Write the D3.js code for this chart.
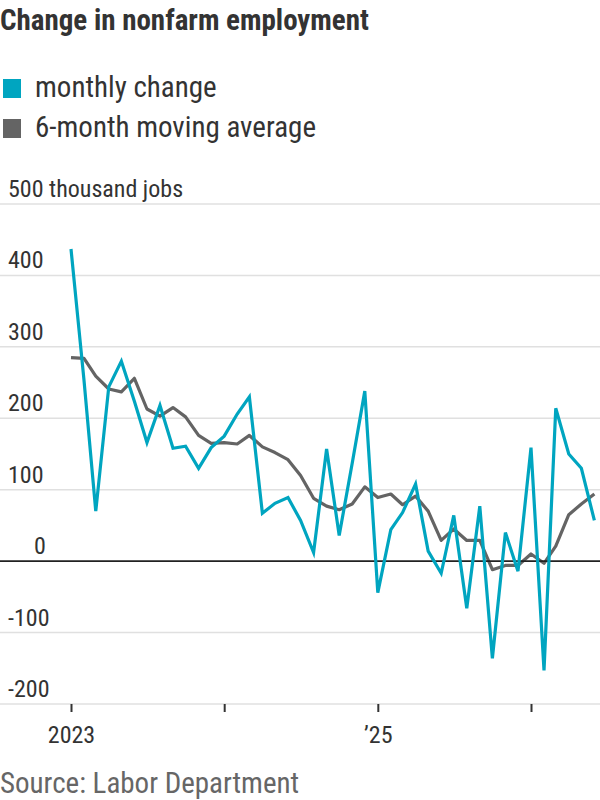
<!DOCTYPE html>
<html>
<head>
<meta charset="utf-8">
<script src="https://cdn.jsdelivr.net/npm/d3@7"></script>
<style>
  body { margin: 0; background: #fff; }
  svg text { font-family: "Liberation Sans Narrow", "Roboto Condensed", Roboto, sans-serif; fill: #333; }
</style>
</head>
<body>
<script>
// Data (thousand jobs), monthly from Jan 2023
var startMonth = [2023, 0];
var monthly = [437, 253, 70, 244, 280, 224, 166, 218, 158, 161, 130, 159,
               175, 206, 230, 67, 81, 89, 57, 12, 157, 36, 137, 238,
               -44, 44, 68, 108, 14, -17, 64, -66, 77, -136, 40, -14,
               159, -153, 214, 150, 130, 57];
var movingAvg = [285, 284, 259, 241, 237, 256, 213, 203, 215, 202, 176, 165,
                 166, 164, 176, 160, 152, 142, 120, 88, 77, 72, 80, 104,
                 89, 94, 79, 91, 70, 29, 45, 29, 29, -12, -6, -6,
                 10, -3, 21, 65, 80, 94];
var yTicks = [-200, -100, 0, 100, 200, 300, 400, 500];
var xTickYears = [2023, 2024, 2025, 2026];
var xTickLabels = ["2023", "", "\u201925", ""];
var legendItems = ["monthly change", "6-month moving average"];

var teal = "#00a5c0", grey = "#646464";

var W = 600, H = 800;
var svg = d3.select("body").append("svg")
    .attr("width", W)
    .attr("height", H);

// Scales
var xScale = d3.scaleTime()
    .domain([new Date(2023, 0, 1), new Date(2026, 0, 1)])
    .range([71, 531]);
var yScale = d3.scaleLinear()
    .domain([-200, 500])
    .range([704, 204]);

var dates = monthly.map(function (d, i) { return new Date(startMonth[0], startMonth[1] + i, 1); });

// Title
svg.append("text")
    .attr("x", 0).attr("y", 30)
    .style("font-size", "29px")
    .style("font-weight", "bold")
    .text("Change in nonfarm employment");

// Legend
var legend = svg.selectAll(".legend")
    .data(legendItems)
    .enter().append("g")
    .attr("transform", function (d, i) { return "translate(0," + (79 + i * 40) + ")"; });
legend.append("rect")
    .attr("x", 3).attr("y", 0)
    .attr("width", 18).attr("height", 19)
    .attr("fill", function (d, i) { return i === 0 ? teal : grey; });
legend.append("text")
    .attr("x", 35).attr("y", 18)
    .style("font-size", "29px")
    .text(function (d) { return d; });

// Gridlines + y labels
svg.append("g").selectAll("line")
    .data(yTicks.filter(function (d) { return d !== 0; }))
    .enter().append("line")
    .attr("x1", 0).attr("x2", W)
    .attr("y1", function (d) { return yScale(d); })
    .attr("y2", function (d) { return yScale(d); })
    .attr("stroke", "#e0e0e0")
    .attr("stroke-width", 1.5);

svg.append("g").selectAll("text")
    .data(yTicks)
    .enter().append("text")
    .attr("x", function (d) { return d === 0 ? 34 : 8; })
    .attr("y", function (d) { return yScale(d) - 7; })
    .style("font-size", "24px")
    .text(function (d) { return d === 500 ? "500 thousand jobs" : d; });

// X axis ticks
var xAxis = svg.append("g")
    .attr("class", "x axis")
    .attr("transform", "translate(0," + yScale(-200) + ")")
    .call(d3.axisBottom(xScale)
        .tickValues(xTickYears.map(function (y) { return new Date(y, 0, 1); }))
        .tickSize(8)
        .tickFormat(function (d, i) { return xTickLabels[i]; }));
xAxis.select(".domain").remove();
xAxis.selectAll(".tick line").attr("stroke", "#333").attr("stroke-width", 2);
xAxis.selectAll(".tick text")
    .attr("dy", 0).attr("y", 39)
    .style("font-size", "24px")
    .style("fill", "#333");

// Lines
var line = function (vals) {
    return d3.line()
        .x(function (d, i) { return xScale(dates[i]); })
        .y(function (d) { return yScale(d); })(vals);
};

svg.append("path")
    .attr("d", line(movingAvg))
    .attr("fill", "none")
    .attr("stroke", grey)
    .attr("stroke-width", 3.2)
    .attr("stroke-linejoin", "round");

// Zero line
svg.append("line")
    .attr("x1", 0).attr("x2", W)
    .attr("y1", yScale(0)).attr("y2", yScale(0))
    .attr("stroke", "#222")
    .attr("stroke-width", 1.6);

svg.append("path")
    .attr("d", line(monthly))
    .attr("fill", "none")
    .attr("stroke", teal)
    .attr("stroke-width", 3.2)
    .attr("stroke-linejoin", "miter");

// Source
svg.append("text")
    .attr("x", 0).attr("y", 793)
    .style("font-size", "29px")
    .style("fill", "#666")
    .text("Source: Labor Department");
</script>
</body>
</html>
